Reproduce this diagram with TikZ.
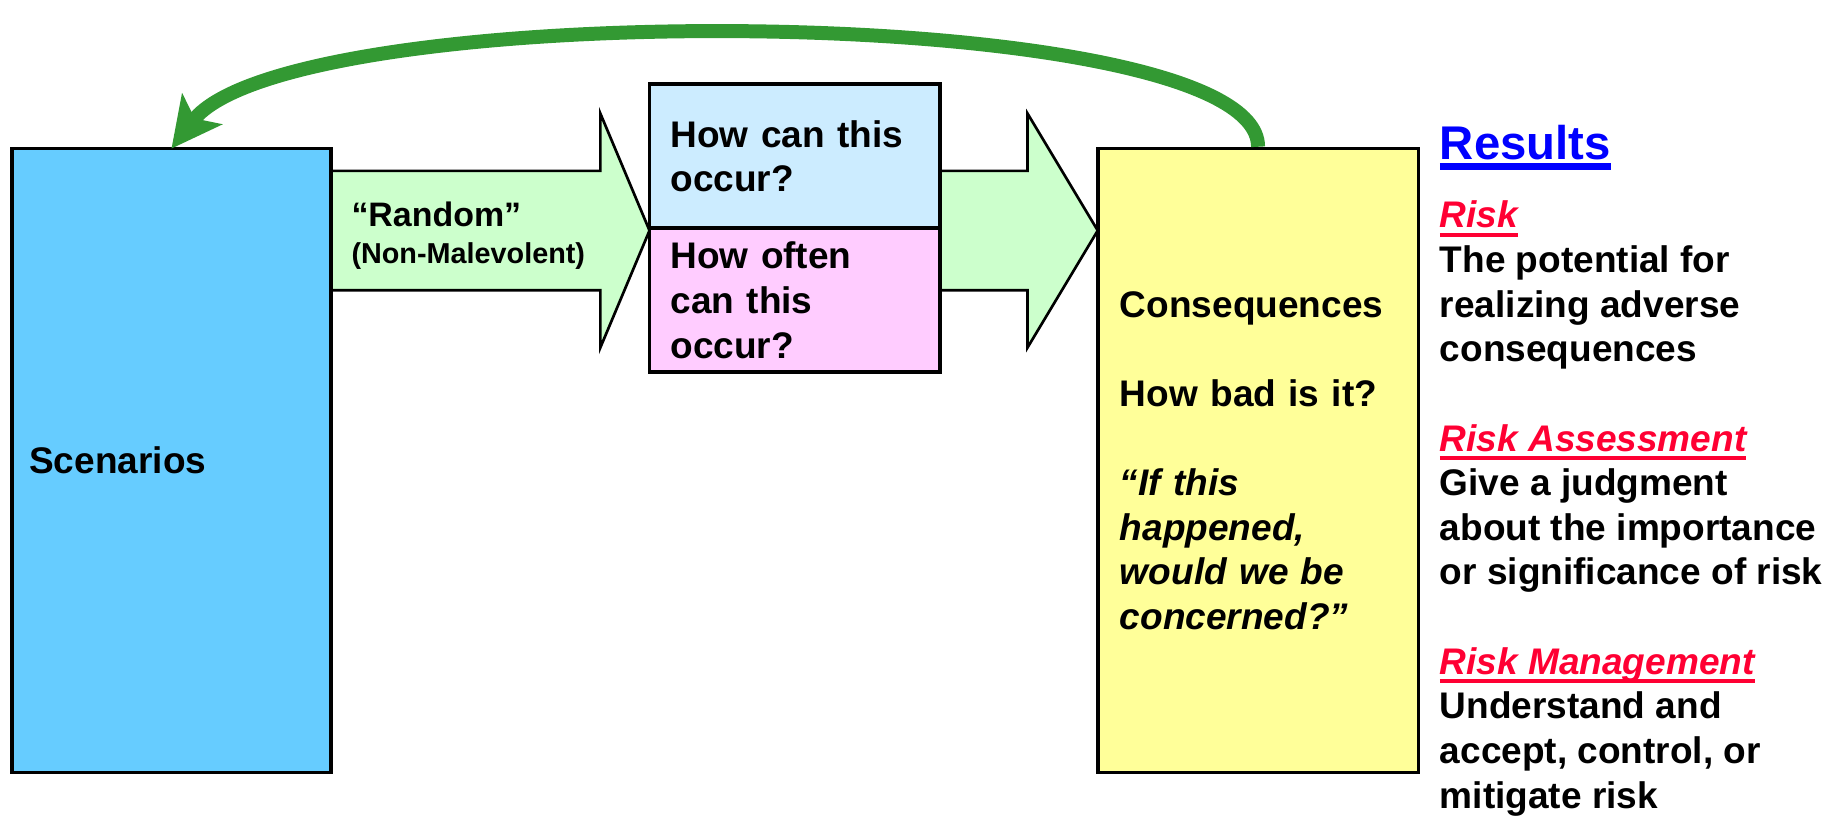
\documentclass[tikz,border=0pt]{standalone}
\usepackage{fontspec}
\setmainfont{Liberation Sans}
\usepackage{xcolor}
\usetikzlibrary{arrows.meta,positioning}

\definecolor{scenblue}{HTML}{66CCFF}
\definecolor{howblue}{HTML}{CCECFF}
\definecolor{howpink}{HTML}{FFCCFF}
\definecolor{consyellow}{HTML}{FFFF99}
\definecolor{flowgreen}{HTML}{CCFFCC}
\definecolor{loopgreen}{HTML}{339933}
\definecolor{riskred}{HTML}{FF0033}
\definecolor{resblue}{HTML}{0000FF}

% underline: #1 = raise of the bar, #2 = bar thickness, #3 = text
\newsavebox{\ulbox}
\newcommand{\ulbar}[3]{\sbox{\ulbox}{#3}\rlap{\rule[#1]{\wd\ulbox}{#2}}\usebox{\ulbox}}
\newcommand{\reshead}[1]{\ulbar{-4.8pt}{3pt}{#1}}
\newcommand{\riskhead}[1]{{\color{riskred}\itshape\ulbar{-4.2pt}{1.9pt}{#1}}}

\begin{document}
\begin{tikzpicture}[
    box/.style={draw, line width=1.8pt, outer sep=0pt, inner ysep=0.1cm, align=left,
        font=\fontsize{18}{21.7}\selectfont\bfseries},
    flow/.style={fill=flowgreen, draw, line width=1.3pt, line join=miter}]
    \useasboundingbox (0,0) rectangle (31.36,13.94);

    % Block arrows
    \filldraw[flow] (5.66,11.02) -- (10.26,11.02) -- (10.26,12.0) -- (11.1,10.0) -- (10.26,8.0) -- (10.26,8.98) -- (5.66,8.98) -- cycle;
    \filldraw[flow] (16.06,11.02) -- (17.56,11.02) -- (17.56,12.0) -- (18.76,10.0) -- (17.56,8.0) -- (17.56,8.98) -- (16.06,8.98) -- cycle;

    % Boxes
    \node[box, fill=scenblue, minimum width=5.46cm, minimum height=10.66cm, text width=4.86cm, inner xsep=0.3cm] (scen) at (2.93,6.07) {Scenarios};
    \node[box, fill=howblue, minimum width=4.96cm, minimum height=2.46cm, text width=4.24cm, inner xsep=0.36cm] (howcan) at (13.58,11.27) {How can this\\occur?};
    \node[box, fill=howpink, minimum width=4.96cm, minimum height=2.46cm, text width=4.24cm, inner xsep=0.36cm, below=0pt of howcan] (howoften) {How often\\can this\\occur?};
    \node[box, fill=consyellow, minimum width=5.48cm, minimum height=10.66cm, text width=4.72cm, inner xsep=0.38cm] (cons) at (21.5,6.07)
        {Consequences\\[21.7pt] How bad is it?\\[21.7pt] \textit{“If this}\\ \textit{happened,}\\ \textit{would we be}\\ \textit{concerned?”}};

    % Arrow label
    \node[anchor=west, inner sep=0, align=left, font=\fontsize{14}{17.8}\selectfont\bfseries] (rand) at (6.0,9.91)
        {{\fontsize{16.5}{18}\selectfont “Random”}\\(Non-Malevolent)};

    % Feedback loop
    \draw[line width=6.8pt, loopgreen, -{Stealth[length=0.85cm,width=0.85cm,inset=0.2cm]}] ([yshift=0.9pt]cons.north) .. controls +(0,2.5) and +(2.04,2.64) .. (scen.north);

    % Results
    \node[anchor=base west, inner sep=0, text=resblue, font=\fontsize{23}{27}\selectfont\bfseries] (res) at (24.6,11.21) {\reshead{Results}};
    \node[anchor=north west, inner sep=0, align=left, font=\fontsize{18}{21.7}\selectfont\bfseries] (risk) at (24.6,10.51)
        {\riskhead{Risk}\\ The potential for\\ realizing adverse\\ consequences\\[21.7pt]
         \riskhead{Risk Assessment}\\ Give a judgment\\ about the importance\\ or significance of risk\\[21.7pt]
         \riskhead{Risk Management}\\ Understand and\\ accept, control, or\\ mitigate risk};
\end{tikzpicture}
\end{document}
